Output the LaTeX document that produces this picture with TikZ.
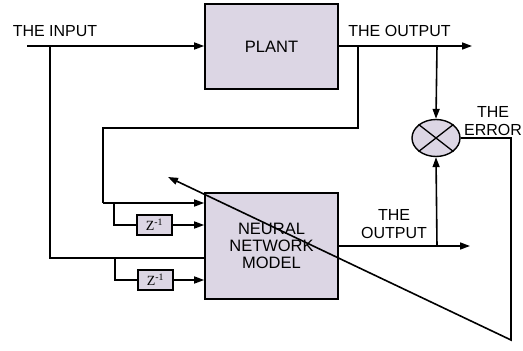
\documentclass[tikz,border=0pt]{standalone}
\usepackage{fontspec}
\setmainfont{Liberation Sans}
\newfontfamily\zfont{Liberation Serif}
\usetikzlibrary{arrows.meta,positioning,shapes.geometric}
\definecolor{ink}{RGB}{0,0,0}
\definecolor{lilac}{RGB}{220,214,228}
\tikzset{
  blk/.style={draw=ink,line width=1.6pt,fill=lilac,minimum width=133pt,
    inner sep=0pt,align=center,font=\fontsize{16.5}{17}\selectfont},
  zbox/.style={draw=ink,line width=1.4pt,fill=lilac,minimum width=35pt,
    minimum height=20pt,inner sep=0pt,font=\zfont\fontsize{14}{14}\selectfont},
  mix/.style={ellipse,draw=ink,line width=1.4pt,fill=lilac,minimum width=48pt,
    minimum height=37pt,inner sep=0pt},
  wire/.style={line width=1.6pt,ink},
  arr/.style={-{Triangle[length=10pt,width=7pt]},line width=1.6pt,ink},
  lbl/.style={font=\fontsize{16}{18}\selectfont,align=center,inner sep=0pt},
}
\begin{document}
\begin{tikzpicture}[x=1pt,y=-1pt]
  \fill[white] (0,0) rectangle (523,351);
  \useasboundingbox (0,0) rectangle (523,351);
  % blocks
  \node[blk,minimum height=85pt] (plant) at (271.5,46.5) {PLANT};
  \node[blk,minimum height=106pt] (nn) at (271.5,246) {NEURAL\\NETWORK\\MODEL};
  \node[zbox] (z1) at (154.5,225) {Z\textsuperscript{-1}};
  \node[zbox] (z2) at (155.5,280) {Z\textsuperscript{-1}};
  \node[mix] (err) at (436,138) {};
  \draw[line width=1.3pt] (err.north west) -- (err.south east)
    (err.north east) -- (err.south west);
  % labels
  \node[lbl] (tin) at (55,31) {THE INPUT};
  \node[lbl] (tout) at (399.5,31) {THE OUTPUT};
  \node[lbl] (terr) at (493,121) {THE\\ERROR};
  \node[lbl] (tnout) at (394,224) {THE\\OUTPUT};
  % input side
  \coordinate (in0) at (27,46);
  \coordinate (in1) at (50,46);
  \coordinate (in2) at (50,258);
  \coordinate (in3) at (115,258);
  \coordinate (in4) at (115,280);
  \draw[arr] (in0) -- (in0 -| plant.west);
  \draw[wire] (in1) -- (in2) -- (in2 -| nn.west);
  \draw[wire] (in3) -- (in4) -- (z2.west);
  \draw[arr] (z2.east) -- (z2.east -| nn.west);
  % plant output and feedback
  \coordinate (out0) at (472,46);
  \coordinate (out1) at (437,46);
  \coordinate (fb0) at (358,46);
  \coordinate (fb1) at (358,128);
  \coordinate (fb2) at (103,128);
  \coordinate (fb3) at (103,203);
  \coordinate (fb4) at (114,203);
  \coordinate (fb5) at (114,225);
  \draw[arr] (plant.east |- out0) -- (out0);
  \draw[arr] (out1) -- (err.north);
  \draw[wire] (fb0) -- (fb1) -- (fb2) -- (fb3);
  \draw[arr] (fb3) -- (fb3 -| nn.west);
  \draw[wire] (fb4) -- (fb5) -- (z1.west);
  \draw[arr] (z1.east) -- (z1.east -| nn.west);
  % model output
  \coordinate (mo0) at (470,246);
  \coordinate (mo1) at (437,246);
  \draw[arr] (nn.east) -- (mo0);
  \draw[arr] (mo1) -- (err.south);
  % error path
  \coordinate (e1) at (511,138);
  \coordinate (e2) at (511,340);
  \coordinate (e3) at (168,177);
  \draw[arr] (err.east) -- (e1) -- (e2) -- (e3);
\end{tikzpicture}
\end{document}
